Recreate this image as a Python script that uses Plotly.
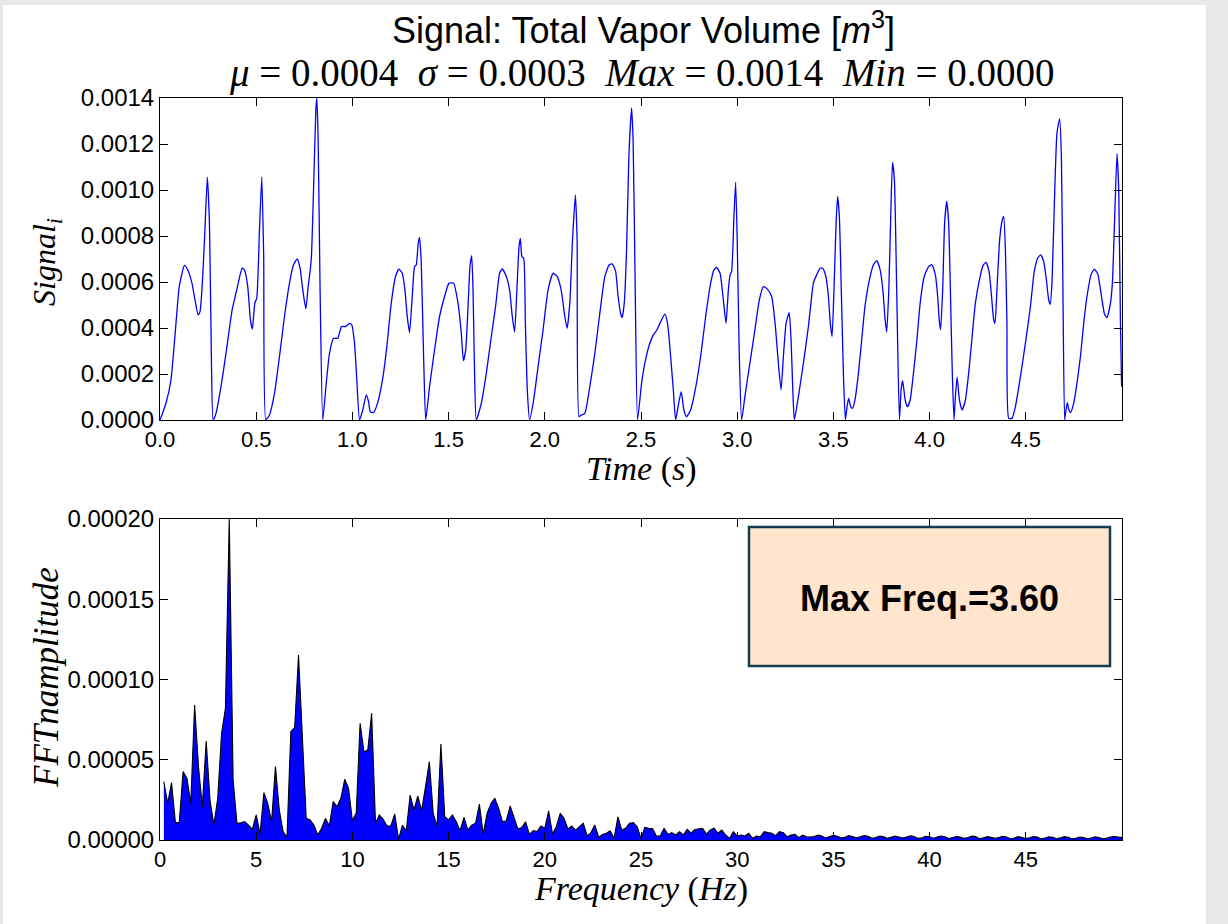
import numpy as np
import plotly.graph_objects as go

# ---------------- data ----------------
time_s = [
    0.000, 0.031, 0.057, 0.083, 0.100, 0.127, 0.144, 0.166, 0.182, 0.198, 0.208, 0.222, 0.232, 0.246, 0.257, 0.267, 0.276,
    0.291, 0.317, 0.343, 0.375, 0.399, 0.427, 0.439, 0.456, 0.470, 0.480, 0.493, 0.503, 0.517, 0.529, 0.539, 0.550,
    0.569, 0.595, 0.621, 0.647, 0.673, 0.694, 0.713, 0.728, 0.742, 0.758, 0.770, 0.780, 0.787, 0.798, 0.810, 0.815, 0.822, 0.832, 0.846,
    0.864, 0.881, 0.902, 0.924, 0.943, 0.964, 0.985, 0.997, 1.011, 1.023, 1.037,
    1.054, 1.072, 1.084, 1.093, 1.110, 1.133, 1.159, 1.179, 1.202, 1.224, 1.242, 1.259, 1.273, 1.285, 1.297, 1.311, 1.323, 1.332, 1.342, 1.349, 1.358, 1.370, 1.381,
    1.401, 1.427, 1.453, 1.479, 1.502, 1.526, 1.549, 1.566, 1.577, 1.589, 1.601, 1.611, 1.620, 1.627, 1.635, 1.644,
    1.670, 1.696, 1.722, 1.744, 1.765, 1.779, 1.800, 1.817, 1.831, 1.843, 1.855, 1.866, 1.873, 1.881, 1.890, 1.899, 1.909, 1.921,
    1.942, 1.965, 1.991, 2.017, 2.043, 2.064, 2.085, 2.104, 2.116, 2.130, 2.144, 2.159, 2.168, 2.178,
    2.190, 2.208, 2.234, 2.260, 2.286, 2.312, 2.335, 2.350, 2.368, 2.381, 2.394, 2.402, 2.413, 2.425, 2.437, 2.451, 2.459, 2.470, 2.482,
    2.503, 2.520, 2.543, 2.564, 2.581, 2.598, 2.624, 2.638, 2.654, 2.668, 2.680,
    2.694, 2.709, 2.723, 2.737, 2.758, 2.785, 2.810, 2.836, 2.862, 2.879, 2.893, 2.911, 2.928, 2.942, 2.954, 2.963, 2.971, 2.983, 2.992, 3.000, 3.011, 3.023,
    3.040, 3.066, 3.092, 3.115, 3.136, 3.157, 3.179, 3.197, 3.214, 3.228, 3.240, 3.254, 3.270, 3.280, 3.289, 3.297,
    3.318, 3.344, 3.370, 3.396, 3.413, 3.431, 3.444, 3.461, 3.474, 3.484, 3.493, 3.503, 3.514, 3.522, 3.531, 3.541, 3.552, 3.562,
    3.571, 3.579, 3.590, 3.600, 3.612, 3.630, 3.647, 3.664, 3.687, 3.708, 3.725, 3.743, 3.757, 3.769, 3.777, 3.788, 3.798, 3.807, 3.817, 3.829, 3.843,
    3.852, 3.860, 3.873, 3.885, 3.899, 3.916, 3.934, 3.951, 3.972, 3.995, 4.012, 4.030, 4.042, 4.050, 4.057, 4.068, 4.078, 4.089, 4.099, 4.108, 4.118, 4.127,
    4.134, 4.143, 4.155, 4.169, 4.186, 4.203, 4.221, 4.238, 4.259, 4.278, 4.293, 4.309, 4.322, 4.333, 4.340, 4.350, 4.364, 4.376, 4.385, 4.394, 4.402, 4.411,
    4.428, 4.446, 4.472, 4.498, 4.524, 4.544, 4.562, 4.577, 4.593, 4.607, 4.619, 4.627, 4.636, 4.648, 4.662, 4.676, 4.685, 4.693, 4.702,
    4.709, 4.716, 4.724, 4.733, 4.749, 4.766, 4.784, 4.801, 4.818, 4.839, 4.856, 4.874, 4.891, 4.909, 4.922, 4.940, 4.950, 4.961, 4.974, 4.983, 4.992, 4.998,
]

vapor_volume = [
    0.0, 7.3e-5, 1.74e-4, 4.2e-4, 5.8e-4, 6.72e-4, 6.53e-4, 5.95e-4, 5.22e-4, 4.57e-4, 4.71e-4, 6.24e-4, 7.98e-4, 1.056e-3, 8.56e-4, 2.76e-4, 0.0,
    2.9e-5, 1.45e-4, 2.9e-4, 4.79e-4, 5.66e-4, 6.6e-4, 6.53e-4, 5.8e-4, 4.35e-4, 3.95e-4, 5.08e-4, 5.3e-4, 8.27e-4, 1.056e-3, 7.1e-4, 0.0,
    2.2e-5, 1.16e-4, 2.76e-4, 4.5e-4, 5.95e-4, 6.75e-4, 7.0e-4, 6.6e-4, 5.66e-4, 4.83e-4, 5.8e-4, 6.46e-4, 7.1e-4, 1.0e-3, 1.349e-3, 1.40e-3, 1.22e-3, 5.66e-4, 0.0,
    1.6e-4, 2.9e-4, 3.55e-4, 3.55e-4, 4.06e-4, 4.06e-4, 4.2e-4, 4.13e-4, 3.34e-4, 1.74e-4, 0.0,
    4.35e-5, 1.09e-4, 8.0e-5, 3.6e-5, 3.2e-5, 8.0e-5, 1.89e-4, 3.19e-4, 5.08e-4, 6.24e-4, 6.56e-4, 6.38e-4, 5.66e-4, 4.5e-4, 3.8e-4, 5.37e-4, 6.67e-4, 6.75e-4, 7.69e-4, 7.94e-4, 6.82e-4, 2.76e-4, 0.0,
    1.45e-4, 3.05e-4, 4.5e-4, 5.37e-4, 5.95e-4, 5.95e-4, 5.08e-4, 3.77e-4, 2.58e-4, 3.05e-4, 4.93e-4, 6.67e-4, 7.15e-4, 5.66e-4, 2.03e-4, 0.0,
    7.3e-5, 2.03e-4, 3.63e-4, 4.93e-4, 6.38e-4, 6.57e-4, 6.24e-4, 5.66e-4, 4.5e-4, 3.82e-4, 5.66e-4, 7.54e-4, 7.9e-4, 7.1e-4, 7.04e-4, 4.2e-4, 1.31e-4, 0.0,
    8.7e-5, 2.32e-4, 3.92e-4, 5.66e-4, 6.38e-4, 6.24e-4, 5.66e-4, 4.5e-4, 3.99e-4, 5.08e-4, 7.83e-4, 9.79e-4, 7.83e-4, 1.45e-5,
    2.2e-5, 2.9e-5, 1.45e-4, 2.9e-4, 4.64e-4, 6.24e-4, 6.75e-4, 6.79e-4, 6.46e-4, 5.37e-4, 4.64e-4, 4.45e-4, 5.08e-4, 7.4e-4, 1.146e-3, 1.357e-3, 1.219e-3, 5.66e-4, 0.0,
    1.6e-4, 2.47e-4, 3.26e-4, 3.7e-4, 3.89e-4, 4.2e-4, 4.6e-4, 4.2e-4, 2.76e-4, 1.31e-4, 0.0,
    6.5e-5, 1.23e-4, 4.35e-5, 1.45e-5, 4.35e-5, 1.45e-4, 2.76e-4, 4.5e-4, 5.95e-4, 6.53e-4, 6.63e-4, 6.38e-4, 5.22e-4, 4.2e-4, 5.66e-4, 6.31e-4, 6.46e-4, 8.85e-4, 1.033e-3, 7.83e-4, 2.76e-4, 0.0,
    1.02e-4, 2.47e-4, 3.92e-4, 5.22e-4, 5.8e-4, 5.69e-4, 5.37e-4, 4.2e-4, 2.47e-4, 1.31e-4, 2.76e-4, 4.2e-4, 4.67e-4, 3.48e-4, 1.31e-4, 0.0,
    1.02e-4, 2.47e-4, 4.06e-4, 5.95e-4, 6.31e-4, 6.6e-4, 6.6e-4, 6.24e-4, 5.37e-4, 4.2e-4, 3.63e-4, 5.66e-4, 8.56e-4, 9.72e-4, 8.85e-4, 5.66e-4, 2.03e-4, 0.0,
    5.8e-5, 9.4e-5, 5.8e-5, 5.1e-5, 8.7e-5, 2.03e-4, 3.48e-4, 4.93e-4, 6.09e-4, 6.75e-4, 6.93e-4, 6.53e-4, 5.66e-4, 4.35e-4, 3.82e-4, 5.66e-4, 8.85e-4, 1.12e-3, 1.045e-3, 5.66e-4, 0.0,
    1.31e-4, 1.71e-4, 8.7e-5, 5.8e-5, 8.7e-5, 2.03e-4, 3.48e-4, 5.08e-4, 6.24e-4, 6.67e-4, 6.75e-4, 6.31e-4, 5.37e-4, 4.35e-4, 3.92e-4, 5.66e-4, 8.56e-4, 9.5e-4, 8.56e-4, 5.66e-4, 2.03e-4, 0.0,
    1.02e-4, 1.86e-4, 8.7e-5, 4.35e-5, 8.7e-5, 2.03e-4, 3.63e-4, 5.08e-4, 6.09e-4, 6.72e-4, 6.85e-4, 6.46e-4, 5.37e-4, 4.35e-4, 4.2e-4, 5.66e-4, 7.83e-4, 8.63e-4, 8.85e-4, 7.4e-4, 4.2e-4, 7e-6,
    7e-6, 5.8e-5, 1.89e-4, 3.34e-4, 4.93e-4, 6.46e-4, 7.04e-4, 7.18e-4, 6.89e-4, 6.09e-4, 5.22e-4, 5.03e-4, 5.95e-4, 9.29e-4, 1.248e-3, 1.309e-3, 1.146e-3, 5.66e-4, 0.0,
    4.35e-5, 7.5e-5, 4.35e-5, 3.2e-5, 7.3e-5, 1.6e-4, 2.76e-4, 4.2e-4, 5.37e-4, 6.31e-4, 6.56e-4, 6.35e-4, 5.51e-4, 4.61e-4, 4.45e-4, 5.08e-4, 5.95e-4, 8.56e-4, 1.158e-3, 1.0e-3, 4.2e-4, 1.45e-4,
]

# FFT amplitude (x 1e-5) on the 0.2 Hz frequency bins, starting at 0.2 Hz
fft_amp_e5 = [
    3.63, 2.28, 3.57, 1.08, 1.08, 4.26, 3.84, 2.28, 8.41, 4.57,
    2.08, 6.17, 2.49, 0.93, 2.60, 6.65, 8.20, 20.0, 3.74, 1.04,
    1.08, 1.14, 0.93, 0.66, 1.56, 0.37, 2.95, 2.28, 1.14, 4.57,
    1.87, 0.52, 0.17, 6.75, 7.02, 11.53, 6.40, 1.35, 1.25, 0.93,
    0.31, 0.73, 1.35, 0.87, 2.39, 2.08, 2.60, 3.78, 3.22, 1.20,
    1.70, 7.27, 5.50, 5.60, 7.90, 1.04, 1.56, 1.29, 0.87, 0.87,
    1.62, 0.04, 0.93, 0.58, 2.80, 1.87, 2.74, 1.83, 3.32, 4.88,
    1.66, 0.83, 5.98, 1.45, 1.25, 1.56, 1.14, 0.58, 1.41, 0.62,
    0.93, 1.04, 2.24, 0.37, 1.66, 2.28, 2.60, 1.97, 1.14, 1.20,
    2.12, 1.45, 0.69, 0.77, 1.14, 0.35, 0.58, 0.52, 0.87, 0.73,
    1.81, 0.37, 0.83, 1.66, 1.35, 0.69, 0.87, 0.62, 0.83, 1.04,
    0.25, 0.46, 0.93, 0.17, 0.35, 0.42, 0.58, 0.10, 1.45, 0.62,
    0.73, 1.04, 1.08, 0.83, 0.10, 0.79, 0.73, 0.71, 0.25, 0.25,
    0.73, 0.35, 0.46, 0.31, 0.52, 0.31, 0.66, 0.42, 0.66, 0.69,
    0.73, 0.37, 0.62, 0.73, 0.42, 0.62, 0.31, 0.10, 0.52, 0.25,
    0.31, 0.25, 0.42, 0.10, 0.25, 0.20, 0.52, 0.46, 0.42, 0.27,
    0.52, 0.46, 0.20, 0.31, 0.35, 0.15, 0.31, 0.20,
    0.18, 0.22, 0.30, 0.25, 0.13, 0.21, 0.29, 0.24, 0.12, 0.17,
    0.27, 0.22, 0.14, 0.20, 0.28, 0.23, 0.11, 0.16, 0.25, 0.21,
    0.10, 0.17, 0.24, 0.19, 0.12, 0.19, 0.26, 0.22, 0.10, 0.14,
    0.23, 0.20, 0.11, 0.18, 0.25, 0.20, 0.09, 0.15, 0.22, 0.18,
    0.10, 0.16, 0.24, 0.21, 0.08, 0.13, 0.21, 0.17, 0.10, 0.15,
    0.23, 0.19, 0.08, 0.12, 0.21, 0.16, 0.09, 0.14, 0.22, 0.18,
    0.07, 0.12, 0.20, 0.17, 0.08, 0.13, 0.21, 0.17, 0.07, 0.11,
    0.19, 0.15, 0.08, 0.12, 0.20, 0.16, 0.07, 0.11, 0.19, 0.22,
    0.18, 0.15,
]
fft_amp = [v * 1e-5 for v in fft_amp_e5]
freq_hz = [round(0.2 * (i + 1), 1) for i in range(len(fft_amp))]

top_yticks = [0.0, 0.0002, 0.0004, 0.0006, 0.0008, 0.0010, 0.0012, 0.0014]
top_xticks = [0.0, 0.5, 1.0, 1.5, 2.0, 2.5, 3.0, 3.5, 4.0, 4.5]
bot_yticks = [0.0, 0.00005, 0.00010, 0.00015, 0.00020]
bot_xticks = [0, 5, 10, 15, 20, 25, 30, 35, 40, 45]
max_freq_label = "Max Freq.=3.60"

# ---------------- figure ----------------
W, H = 1228, 924
ML, MR, MT, MB = 160, 106, 98, 84
PW, PH = W - ML - MR, H - MT - MB


def px(xp):
    return (xp - ML) / PW


def py(yp):
    return (H - MB - yp) / PH


fig = go.Figure()
fig.add_trace(go.Scatter(x=time_s, y=vapor_volume, mode="lines",
                         line=dict(color="#0000FF", width=1.3, shape="spline", smoothing=0.5),
                         xaxis="x", yaxis="y", showlegend=False, hoverinfo="skip"))
fig.add_trace(go.Scatter(x=freq_hz, y=fft_amp, mode="lines", fill="tozeroy",
                         fillcolor="#0000FF", line=dict(color="black", width=1.1),
                         xaxis="x2", yaxis="y2", showlegend=False, hoverinfo="skip"))

xtickfont = dict(family="Liberation Sans, Arial, sans-serif", size=22, color="black")
ytickfont = dict(family="Liberation Sans, Arial, sans-serif", size=24, color="black")
axis_common = dict(showline=True, linecolor="black", linewidth=1, mirror="ticks",
                   ticks="inside", ticklen=8, tickwidth=1, tickcolor="black",
                   showgrid=False, zeroline=False)

top_dom = [py(420), 1.0]
bot_dom = [0.0, py(519)]

fig.update_layout(
    width=W, height=H,
    margin=dict(l=ML, r=MR, t=MT, b=MB),
    paper_bgcolor="#E8E8E8", plot_bgcolor="white",
    xaxis=dict(range=[0, 5.0], domain=[0, 1], anchor="y", tickvals=top_xticks,
               ticktext=[f"{v:.1f}" for v in top_xticks], tickfont=xtickfont, **axis_common),
    yaxis=dict(range=[0, 0.0014], domain=top_dom, anchor="x", tickvals=top_yticks,
               ticktext=[f"{v:.4f}" for v in top_yticks], tickfont=ytickfont, **axis_common),
    xaxis2=dict(range=[0, 50], domain=[0, 1], anchor="y2", tickvals=bot_xticks,
                ticktext=[str(v) for v in bot_xticks], tickfont=xtickfont, **axis_common),
    yaxis2=dict(range=[0, 0.0002], domain=bot_dom, anchor="x2", tickvals=bot_yticks,
                ticktext=[f"{v:.5f}" for v in bot_yticks], tickfont=ytickfont, **axis_common),
)

# white page over the light grey frame
fig.add_shape(type="rect", xref="paper", yref="paper", layer="below",
              x0=px(3), x1=px(1206), y0=py(H + 5), y1=py(5),
              fillcolor="white", line=dict(width=0))

# Max-frequency box
fig.add_shape(type="rect", xref="x2 domain", yref="y2 domain",
              x0=(749 - ML) / PW, x1=(1110 - ML) / PW,
              y0=(840 - 666) / 321, y1=(840 - 527) / 321,
              fillcolor="#FFE4CE", line=dict(color="#123E4E", width=2.5))

serif = "Liberation Serif, Times New Roman, serif"
sans = "Liberation Sans, Arial, sans-serif"
nb = "\u00a0"

ann = [
    dict(text="Signal: Total Vapor Volume [<i>m</i><sup>3</sup>]", x=px(643), y=py(28),
         font=dict(family=sans, size=36, color="black")),
    dict(text=f"<i>μ</i>{nb}={nb}0.0004{nb}{nb}<i>σ</i>{nb}={nb}0.0003{nb}{nb}<i>Max</i>{nb}={nb}0.0014{nb}{nb}<i>Min</i>{nb}={nb}0.0000",
         x=px(641), y=py(73), font=dict(family=serif, size=39, color="black")),
    dict(text="<i>Time</i> (<i>s</i>)", x=px(641), y=py(469),
         font=dict(family=serif, size=34, color="black")),
    dict(text="<i>Signal</i><sub><i>i</i></sub>", x=px(46), y=py(262), textangle=-90,
         font=dict(family=serif, size=32, color="black")),
    dict(text="<i>Frequency</i> (<i>Hz</i>)", x=px(641), y=py(889),
         font=dict(family=serif, size=34, color="black")),
    dict(text="<i>FFTnamplitude</i>", x=px(46), y=py(678), textangle=-90,
         font=dict(family=serif, size=35, color="black")),
    dict(text=f"<b>{max_freq_label}</b>", x=px(929), y=py(598),
         font=dict(family=sans, size=36, color="black")),
]
for a in ann:
    a.update(xref="paper", yref="paper", showarrow=False, xanchor="center", yanchor="middle")
fig.update_layout(annotations=ann)

fig.write_html("out.html", config={"displayModeBar": False},
               post_script="document.body.style.margin='0';")
